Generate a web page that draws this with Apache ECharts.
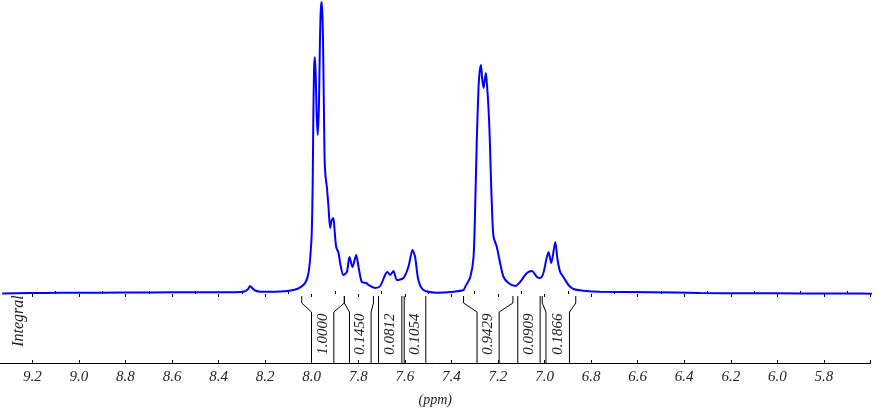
<!DOCTYPE html>
<html><head><meta charset="utf-8">
<script src="https://cdn.jsdelivr.net/npm/echarts@6/dist/echarts.min.js"></script>
<style>html,body{margin:0;padding:0;background:#fff}#c{width:886px;height:413px}</style>
</head><body><div id="c"></div>
<script>
// chemical shift (ppm) and intensity (arbitrary units)
const ppm = [9.330, 9.210, 9.081, 8.909, 8.694, 8.479, 8.329, 8.290, 8.273, 8.265, 8.256, 8.243, 8.222, 8.157, 8.114, 8.079, 8.058, 8.036, 8.024, 8.014, 8.007, 8.000, 7.996, 7.993, 7.990, 7.987, 7.983, 7.979, 7.974, 7.969, 7.965, 7.961, 7.957, 7.953, 7.950, 7.945, 7.941, 7.935, 7.928, 7.921, 7.914, 7.907, 7.902, 7.895, 7.885, 7.878, 7.864, 7.849, 7.838, 7.825, 7.809, 7.799, 7.785, 7.766, 7.756, 7.728, 7.706, 7.685, 7.675, 7.663, 7.649, 7.634, 7.606, 7.585, 7.567, 7.556, 7.542, 7.520, 7.463, 7.391, 7.348, 7.341, 7.319, 7.305, 7.298, 7.291, 7.284, 7.279, 7.273, 7.268, 7.262, 7.257, 7.252, 7.246, 7.241, 7.236, 7.231, 7.225, 7.219, 7.205, 7.191, 7.176, 7.155, 7.126, 7.105, 7.076, 7.054, 7.033, 7.019, 7.005, 6.993, 6.983, 6.971, 6.954, 6.944, 6.933, 6.919, 6.897, 6.876, 6.833, 6.761, 6.546, 6.331, 6.116, 5.902, 5.687, 5.594];
const intensity = [0.5, 1, 1.2, 1.3, 1.5, 1.8, 1.8, 2.5, 5, 8, 6, 3.5, 2.3, 2.3, 2.7, 4, 5.5, 9, 13, 21, 35, 61, 110, 180, 225, 236.7, 220, 180, 159, 190, 250, 285, 292, 270, 227, 137, 118, 107, 87, 66, 74, 76, 64, 47, 41, 31, 19, 22, 37, 27, 39, 27, 12, 11, 9, 6, 8, 19, 22, 19, 23, 14, 16, 27, 44, 37, 14, 4, 1.3, 2.3, 4, 7, 17, 37, 87, 154, 204, 222, 229, 215, 206, 214, 221, 205, 187, 160, 121, 80, 57, 47, 31, 17, 11, 8, 12, 21, 23, 17, 16, 21, 34, 42, 31, 52, 34, 22, 17, 9, 5, 3.3, 2.3, 1.8, 1, 0.8, 0.6, 0.5, 0.3];

// integral regions (ppm): bracket tops at the region edges, feet where the lines drop to the axis
const integralLeftTop = [8.043, 7.860, 7.713, 7.603, 7.348, 7.115, 7.010];
const integralLeftFoot = [8.001, 7.838, 7.713, 7.603, 7.290, 7.115, 6.994];
const integralRightTop = [7.860, 7.735, 7.613, 7.510, 7.136, 7.019, 6.866];
const integralRightFoot = [7.905, 7.745, 7.613, 7.510, 7.195, 7.019, 6.893];
const integralValues = ['1.0000', '0.1450', '0.0812', '0.1054', '0.9429', '0.0909', '0.1866'];

// axis
const axisMin = 5.6, axisMax = 9.339;
const majorTicks = [5.6, 5.8, 6.0, 6.2, 6.4, 6.6, 6.8, 7.0, 7.2, 7.4, 7.6, 7.8, 8.0, 8.2, 8.4, 8.6, 8.8, 9.0, 9.2];
const tickLabels = [5.8, 6.0, 6.2, 6.4, 6.6, 6.8, 7.0, 7.2, 7.4, 7.6, 7.8, 8.0, 8.2, 8.4, 8.6, 8.8, 9.0, 9.2];
const minorTicks = [5.7, 5.9, 6.1, 6.3, 6.5, 6.7, 6.9, 7.1, 7.3, 7.5, 7.7, 7.9, 8.1, 8.3, 8.5, 8.7, 8.9, 9.1];

const FONT = '"Liberation Serif", "DejaVu Serif", serif';
const gridBox = {left: 0, right: 15.5, top: 0, bottom: 50};
const chart = echarts.init(document.getElementById('c'), null, {renderer: 'canvas'});

function baseX(i, extra) {
  return Object.assign({
    gridIndex: i, type: 'value', inverse: true, min: axisMin, max: axisMax,
    splitLine: {show: false}, axisLabel: {show: false}, axisTick: {show: false},
    axisLine: {show: false}
  }, extra);
}
function baseY(i) {
  return {gridIndex: i, type: 'value', min: -69, max: 294, show: false};
}

const option = {
  backgroundColor: '#ffffff',
  animation: false,
  grid: [Object.assign({}, gridBox), Object.assign({}, gridBox), Object.assign({}, gridBox)],
  xAxis: [
    baseX(0, {
      axisLine: {show: true, onZero: false, lineStyle: {color: '#000', width: 1}},
      axisTick: {show: true, inside: true, length: 3, customValues: majorTicks, lineStyle: {color: '#000'}}
    }),
    baseX(1, {
      axisTick: {show: true, inside: false, length: 3, customValues: majorTicks, lineStyle: {color: '#000'}},
      axisLabel: {show: true, customValues: tickLabels, margin: 7, color: '#222',
        fontFamily: FONT, fontStyle: 'italic', fontSize: 15,
        formatter: v => Number(v).toFixed(1)},
      name: '(ppm)', nameLocation: 'middle', nameGap: 30,
      nameTextStyle: {fontFamily: FONT, fontStyle: 'italic', fontSize: 14, color: '#222'}
    }),
    baseX(2, {
      axisTick: {show: true, inside: true, length: 3, customValues: minorTicks, lineStyle: {color: '#000'}}
    })
  ],
  yAxis: [baseY(0), baseY(1), baseY(2)],
  graphic: [{
    type: 'text', x: 19, y: 321, rotation: Math.PI / 2,
    style: {text: 'Integral', fill: '#222', font: 'italic 16px ' + FONT, align: 'center', verticalAlign: 'middle'}
  }],
  series: [
    {
      type: 'line', xAxisIndex: 0, yAxisIndex: 0,
      data: ppm.map((p, i) => [p, intensity[i]]),
      showSymbol: false, smooth: 0.25,
      lineStyle: {color: '#0000ff', width: 2},
      silent: true
    },
    {
      type: 'custom', xAxisIndex: 0, yAxisIndex: 0,
      data: integralValues.map((v, i) => [integralLeftTop[i], 0, integralRightTop[i]]),
      encode: {x: [0, 2], y: 1},
      silent: true,
      renderItem: function (params, api) {
        const i = params.dataIndex;
        const c = (x, y) => api.coord([x, y]);
        const topY = -2, bendY = -9, footY = -18, baseYv = -69;
        const left = [c(integralLeftTop[i], topY), c(integralLeftTop[i], bendY), c(integralLeftFoot[i], footY), c(integralLeftFoot[i], baseYv)];
        const right = [c(integralRightTop[i], topY), c(integralRightTop[i], bendY), c(integralRightFoot[i], footY), c(integralRightFoot[i], baseYv)];
        const mid = (c(integralLeftFoot[i], 0)[0] + c(integralRightFoot[i], 0)[0]) / 2;
        const labelY = c(0 + integralLeftFoot[i], -40)[1];
        return {
          type: 'group',
          children: [
            {type: 'polyline', shape: {points: left}, style: {stroke: '#000', lineWidth: 1, fill: null}},
            {type: 'polyline', shape: {points: right}, style: {stroke: '#000', lineWidth: 1, fill: null}},
            {type: 'text', x: mid, y: labelY, rotation: Math.PI / 2,
              style: {text: integralValues[i], fill: '#222', font: 'italic 15px ' + FONT, align: 'center', verticalAlign: 'middle'}}
          ]
        };
      }
    }
  ]
};
chart.setOption(option);
</script>
</body></html>
